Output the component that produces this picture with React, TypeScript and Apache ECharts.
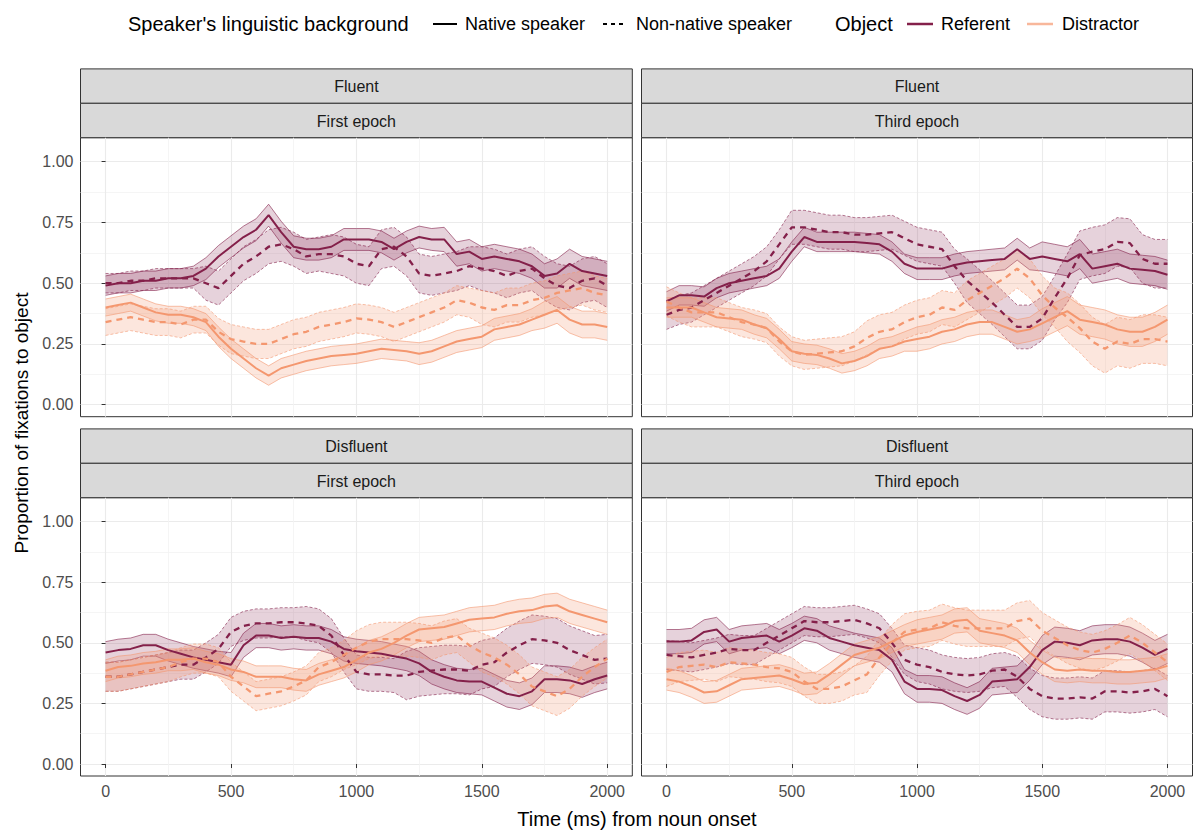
import React, { useEffect, useRef } from "react";
import * as echarts from "echarts";

// ---------- data ----------
const TIME = [0, 50, 100, 150, 200, 250, 300, 350, 400, 450, 500, 550, 600, 650, 700, 750, 800, 850, 900, 950, 1000, 1050, 1100, 1150, 1200, 1250, 1300, 1350, 1400, 1450, 1500, 1550, 1600, 1650, 1700, 1750, 1800, 1850, 1900, 1950, 2000];
const X_TICKS = [0, 500, 1000, 1500, 2000];
const X_MINOR = [250, 750, 1250, 1750];
const Y_TICKS = [0, 0.25, 0.5, 0.75, 1];
const Y_MINOR = [0.125, 0.375, 0.625, 0.875];
const FLUENCY = ["Fluent", "Fluent", "Disfluent", "Disfluent"];
const EPOCH = ["First epoch", "Third epoch", "First epoch", "Third epoch"];
const OBJECTS = ["Referent", "Distractor"];
const BACKGROUNDS = ["Native speaker", "Non-native speaker"];

// Fluent / First epoch
const FF_NAT_REF = [0.49,0.50,0.50,0.51,0.51,0.52,0.52,0.53,0.56,0.61,0.65,0.69,0.72,0.78,0.71,0.65,0.64,0.64,0.65,0.68,0.68,0.68,0.67,0.64,0.67,0.69,0.68,0.68,0.62,0.63,0.60,0.61,0.60,0.59,0.57,0.53,0.54,0.58,0.55,0.54,0.53];
const FF_NAT_REF_SE = [0.04,0.04,0.04,0.04,0.04,0.04,0.04,0.04,0.045,0.045,0.045,0.045,0.045,0.045,0.045,0.045,0.045,0.045,0.045,0.045,0.045,0.045,0.045,0.045,0.045,0.045,0.045,0.05,0.05,0.05,0.05,0.05,0.05,0.05,0.05,0.05,0.06,0.06,0.06,0.06,0.06];
const FF_NON_REF = [0.50,0.50,0.51,0.51,0.52,0.52,0.52,0.52,0.50,0.48,0.53,0.58,0.61,0.65,0.66,0.64,0.61,0.62,0.62,0.61,0.58,0.57,0.64,0.65,0.61,0.54,0.53,0.54,0.55,0.57,0.56,0.55,0.53,0.55,0.56,0.52,0.49,0.48,0.51,0.52,0.49];
const FF_NON_REF_SE = [0.04,0.04,0.04,0.04,0.04,0.04,0.04,0.04,0.07,0.07,0.07,0.07,0.07,0.07,0.07,0.07,0.07,0.07,0.08,0.08,0.08,0.08,0.08,0.08,0.08,0.08,0.08,0.08,0.08,0.08,0.09,0.09,0.09,0.09,0.09,0.09,0.09,0.09,0.09,0.09,0.09];
const FF_NAT_DIS = [0.40,0.41,0.42,0.40,0.38,0.37,0.37,0.36,0.34,0.28,0.23,0.19,0.15,0.12,0.15,0.165,0.18,0.19,0.20,0.205,0.21,0.22,0.23,0.225,0.22,0.21,0.22,0.24,0.26,0.27,0.28,0.31,0.32,0.33,0.35,0.37,0.39,0.35,0.33,0.33,0.32];
const FF_NAT_DIS_SE = [0.035,0.035,0.035,0.035,0.035,0.035,0.035,0.035,0.035,0.04,0.04,0.04,0.04,0.04,0.04,0.04,0.04,0.04,0.04,0.04,0.04,0.04,0.04,0.04,0.04,0.045,0.045,0.045,0.045,0.045,0.045,0.045,0.045,0.045,0.045,0.055,0.055,0.055,0.055,0.055,0.055];
const FF_NON_DIS = [0.34,0.35,0.36,0.35,0.34,0.34,0.33,0.35,0.35,0.30,0.27,0.26,0.25,0.25,0.27,0.29,0.30,0.32,0.33,0.34,0.355,0.35,0.34,0.32,0.34,0.36,0.38,0.40,0.43,0.42,0.40,0.39,0.41,0.41,0.43,0.44,0.46,0.47,0.48,0.46,0.45];
const FF_NON_DIS_SE = [0.055,0.055,0.055,0.055,0.055,0.055,0.055,0.055,0.055,0.055,0.06,0.06,0.06,0.06,0.06,0.06,0.06,0.06,0.06,0.06,0.06,0.06,0.06,0.06,0.06,0.06,0.06,0.06,0.06,0.06,0.07,0.07,0.07,0.07,0.07,0.07,0.07,0.07,0.07,0.07,0.07];

// Fluent / Third epoch
const FT_NAT_REF = [0.425,0.45,0.45,0.445,0.48,0.50,0.51,0.52,0.53,0.56,0.63,0.69,0.67,0.67,0.67,0.67,0.665,0.66,0.63,0.58,0.56,0.56,0.56,0.575,0.585,0.59,0.595,0.60,0.64,0.60,0.61,0.60,0.59,0.62,0.56,0.57,0.58,0.56,0.555,0.55,0.535];
const FT_NAT_REF_SE = [0.04,0.04,0.04,0.04,0.04,0.04,0.04,0.04,0.04,0.04,0.04,0.04,0.04,0.04,0.04,0.04,0.04,0.04,0.04,0.04,0.045,0.045,0.045,0.045,0.045,0.045,0.045,0.045,0.045,0.045,0.06,0.06,0.06,0.06,0.06,0.06,0.06,0.06,0.06,0.06,0.06];
const FT_NON_REF = [0.37,0.39,0.40,0.43,0.46,0.49,0.52,0.55,0.59,0.66,0.73,0.73,0.72,0.71,0.71,0.70,0.70,0.705,0.71,0.685,0.66,0.65,0.64,0.57,0.51,0.465,0.42,0.37,0.32,0.32,0.355,0.44,0.52,0.615,0.63,0.64,0.67,0.665,0.60,0.58,0.58];
const FT_NON_REF_SE = [0.06,0.06,0.06,0.06,0.06,0.06,0.06,0.06,0.06,0.06,0.07,0.07,0.07,0.07,0.07,0.07,0.07,0.07,0.07,0.07,0.07,0.07,0.07,0.07,0.09,0.09,0.09,0.09,0.09,0.09,0.09,0.09,0.1,0.1,0.1,0.1,0.1,0.1,0.1,0.1,0.1];
const FT_NAT_DIS = [0.40,0.40,0.40,0.38,0.36,0.355,0.35,0.33,0.315,0.27,0.22,0.21,0.205,0.19,0.17,0.18,0.20,0.23,0.24,0.26,0.27,0.28,0.30,0.31,0.33,0.34,0.34,0.32,0.30,0.31,0.335,0.36,0.385,0.35,0.34,0.33,0.31,0.30,0.30,0.32,0.35];
const FT_NAT_DIS_SE = [0.04,0.04,0.04,0.04,0.04,0.04,0.04,0.04,0.04,0.04,0.04,0.04,0.04,0.04,0.04,0.04,0.04,0.04,0.04,0.04,0.05,0.05,0.05,0.05,0.05,0.05,0.05,0.05,0.05,0.05,0.06,0.06,0.06,0.06,0.06,0.06,0.06,0.06,0.06,0.06,0.06];
const FT_NON_DIS = [0.425,0.40,0.38,0.38,0.38,0.36,0.34,0.33,0.315,0.26,0.22,0.205,0.21,0.215,0.22,0.24,0.275,0.30,0.31,0.34,0.36,0.37,0.40,0.39,0.43,0.46,0.49,0.52,0.56,0.52,0.45,0.40,0.36,0.315,0.26,0.23,0.26,0.25,0.27,0.27,0.26];
const FT_NON_DIS_SE = [0.06,0.06,0.06,0.06,0.06,0.06,0.06,0.06,0.06,0.06,0.06,0.06,0.06,0.06,0.06,0.06,0.07,0.07,0.07,0.07,0.07,0.07,0.07,0.07,0.08,0.08,0.08,0.08,0.08,0.08,0.08,0.08,0.1,0.1,0.1,0.1,0.1,0.1,0.1,0.1,0.1];

// Disfluent / First epoch
const DF_NAT_REF = [0.46,0.47,0.475,0.49,0.49,0.47,0.455,0.44,0.43,0.42,0.41,0.49,0.53,0.53,0.52,0.525,0.52,0.52,0.505,0.475,0.465,0.46,0.455,0.445,0.435,0.415,0.38,0.36,0.345,0.34,0.34,0.315,0.29,0.28,0.30,0.35,0.35,0.345,0.33,0.35,0.365];
const DF_NAT_REF_SE = [0.045,0.045,0.045,0.045,0.045,0.045,0.045,0.045,0.045,0.045,0.05,0.05,0.05,0.05,0.05,0.05,0.05,0.05,0.05,0.05,0.05,0.05,0.05,0.05,0.05,0.05,0.05,0.05,0.05,0.05,0.055,0.055,0.055,0.055,0.055,0.055,0.055,0.055,0.055,0.055,0.055];
const DF_NON_REF = [0.36,0.36,0.37,0.38,0.39,0.40,0.41,0.41,0.44,0.475,0.545,0.57,0.58,0.58,0.585,0.585,0.58,0.57,0.53,0.45,0.38,0.37,0.37,0.365,0.365,0.38,0.385,0.39,0.39,0.385,0.41,0.42,0.46,0.49,0.515,0.51,0.50,0.47,0.45,0.43,0.435];
const DF_NON_REF_SE = [0.06,0.06,0.06,0.06,0.06,0.06,0.06,0.06,0.06,0.06,0.06,0.06,0.06,0.06,0.06,0.06,0.07,0.07,0.07,0.07,0.07,0.07,0.07,0.07,0.1,0.1,0.1,0.1,0.1,0.1,0.1,0.1,0.1,0.1,0.1,0.1,0.1,0.1,0.1,0.1,0.1];
const DF_NAT_DIS = [0.385,0.40,0.405,0.415,0.42,0.43,0.43,0.435,0.42,0.41,0.39,0.38,0.36,0.36,0.36,0.35,0.345,0.37,0.385,0.40,0.43,0.46,0.475,0.50,0.53,0.555,0.56,0.565,0.58,0.595,0.60,0.605,0.62,0.63,0.635,0.65,0.655,0.63,0.615,0.60,0.585];
const DF_NAT_DIS_SE = [0.045,0.045,0.045,0.045,0.045,0.045,0.045,0.045,0.045,0.045,0.045,0.045,0.045,0.045,0.045,0.045,0.045,0.045,0.045,0.045,0.05,0.05,0.05,0.05,0.05,0.05,0.05,0.05,0.05,0.05,0.05,0.05,0.05,0.05,0.05,0.05,0.05,0.05,0.05,0.05,0.05];
const DF_NON_DIS = [0.36,0.36,0.37,0.38,0.39,0.40,0.42,0.435,0.435,0.42,0.36,0.32,0.28,0.29,0.30,0.32,0.345,0.40,0.42,0.45,0.48,0.505,0.515,0.515,0.515,0.51,0.50,0.52,0.53,0.49,0.46,0.44,0.41,0.37,0.32,0.30,0.28,0.31,0.36,0.40,0.435];
const DF_NON_DIS_SE = [0.06,0.06,0.06,0.06,0.06,0.06,0.06,0.06,0.06,0.06,0.06,0.06,0.06,0.06,0.06,0.06,0.06,0.06,0.06,0.06,0.07,0.07,0.07,0.07,0.07,0.07,0.07,0.07,0.07,0.07,0.08,0.08,0.08,0.08,0.08,0.08,0.08,0.08,0.08,0.08,0.08];

// Disfluent / Third epoch
const DT_NAT_REF = [0.505,0.505,0.51,0.545,0.555,0.505,0.52,0.525,0.53,0.505,0.53,0.56,0.55,0.52,0.505,0.49,0.48,0.47,0.43,0.34,0.31,0.31,0.305,0.28,0.26,0.285,0.34,0.345,0.35,0.40,0.47,0.505,0.50,0.49,0.51,0.515,0.515,0.505,0.48,0.45,0.475];
const DT_NAT_REF_SE = [0.05,0.05,0.05,0.05,0.05,0.05,0.05,0.05,0.05,0.05,0.05,0.05,0.05,0.05,0.05,0.05,0.05,0.05,0.05,0.05,0.055,0.055,0.055,0.055,0.055,0.055,0.055,0.055,0.055,0.055,0.06,0.06,0.06,0.06,0.06,0.06,0.06,0.06,0.06,0.06,0.06];
const DT_NON_REF = [0.45,0.445,0.44,0.45,0.46,0.475,0.47,0.47,0.50,0.53,0.56,0.59,0.585,0.585,0.59,0.595,0.58,0.56,0.50,0.43,0.41,0.40,0.38,0.37,0.365,0.37,0.385,0.39,0.36,0.31,0.28,0.27,0.27,0.275,0.27,0.30,0.30,0.295,0.30,0.31,0.28];
const DT_NON_REF_SE = [0.06,0.06,0.06,0.06,0.06,0.06,0.06,0.06,0.06,0.06,0.06,0.06,0.06,0.06,0.06,0.06,0.06,0.06,0.06,0.06,0.07,0.07,0.07,0.07,0.07,0.07,0.07,0.07,0.085,0.085,0.085,0.085,0.085,0.085,0.085,0.085,0.085,0.085,0.085,0.085,0.085];
const DT_NAT_DIS = [0.35,0.34,0.32,0.295,0.30,0.325,0.35,0.355,0.36,0.365,0.35,0.33,0.335,0.37,0.41,0.45,0.465,0.48,0.505,0.53,0.545,0.555,0.565,0.59,0.595,0.55,0.54,0.53,0.51,0.46,0.42,0.39,0.385,0.39,0.385,0.385,0.38,0.38,0.385,0.39,0.405];
const DT_NAT_DIS_SE = [0.045,0.045,0.045,0.045,0.045,0.045,0.045,0.045,0.045,0.045,0.045,0.045,0.045,0.045,0.045,0.045,0.045,0.045,0.045,0.045,0.05,0.05,0.05,0.05,0.05,0.05,0.05,0.05,0.05,0.05,0.05,0.05,0.05,0.05,0.05,0.05,0.05,0.05,0.05,0.05,0.05];
const DT_NON_DIS = [0.38,0.40,0.405,0.41,0.40,0.42,0.415,0.41,0.40,0.395,0.38,0.34,0.31,0.31,0.32,0.345,0.37,0.44,0.50,0.545,0.555,0.56,0.585,0.57,0.56,0.56,0.56,0.56,0.59,0.60,0.55,0.52,0.49,0.47,0.46,0.475,0.50,0.53,0.50,0.46,0.42];
const DT_NON_DIS_SE = [0.06,0.06,0.06,0.06,0.06,0.06,0.06,0.06,0.06,0.06,0.06,0.06,0.06,0.06,0.06,0.06,0.075,0.075,0.075,0.075,0.075,0.075,0.075,0.075,0.075,0.075,0.075,0.075,0.075,0.075,0.075,0.075,0.075,0.075,0.075,0.075,0.075,0.075,0.075,0.075,0.075];

// ---------- styling / layout ----------
const REF_COLOR = "#84204A";
const DIS_COLOR = "#F4976F";
const FONT = "'Liberation Sans', Arial, Helvetica, sans-serif";

const PANEL_LEFT = [80.5, 641.5, 80.5, 641.5];
const PANEL_WIDTH = [551.8, 551, 551.8, 551];
const PANEL_TOP = [137.7, 137.7, 497.7, 497.7];
const PANEL_HEIGHT = [279, 279, 278.3, 278.3];
const STRIP_H = 34.4;
const X_MIN = -100, X_MAX = 2100;
const Y_MIN = -0.0494, Y_MAX = 1.0988;

const PANELS = [
  [[FF_NAT_REF, FF_NAT_REF_SE], [FF_NON_REF, FF_NON_REF_SE], [FF_NAT_DIS, FF_NAT_DIS_SE], [FF_NON_DIS, FF_NON_DIS_SE]],
  [[FT_NAT_REF, FT_NAT_REF_SE], [FT_NON_REF, FT_NON_REF_SE], [FT_NAT_DIS, FT_NAT_DIS_SE], [FT_NON_DIS, FT_NON_DIS_SE]],
  [[DF_NAT_REF, DF_NAT_REF_SE], [DF_NON_REF, DF_NON_REF_SE], [DF_NAT_DIS, DF_NAT_DIS_SE], [DF_NON_DIS, DF_NON_DIS_SE]],
  [[DT_NAT_REF, DT_NAT_REF_SE], [DT_NON_REF, DT_NON_REF_SE], [DT_NAT_DIS, DT_NAT_DIS_SE], [DT_NON_DIS, DT_NON_DIS_SE]],
];

function ribbonSeries(p: number, mean: number[], se: number[], color: string, native: boolean, isRef: boolean) {
  const data = TIME.map((t, j) => [t, mean[j] - se[j], mean[j] + se[j]]);
  return {
    type: "custom",
    xAxisIndex: p,
    yAxisIndex: p,
    silent: true,
    clip: true,
    z: 2,
    data,
    encode: { x: 0, y: [1, 2] },
    renderItem: (params: any, api: any) => {
      if (params.dataIndex !== 0) return null;
      const lower: number[][] = [];
      const upper: number[][] = [];
      for (let j = 0; j < data.length; j++) {
        lower.push(api.coord([data[j][0], data[j][1]]));
        upper.push(api.coord([data[j][0], data[j][2]]));
      }
      const poly = lower.concat(upper.slice().reverse());
      const dash = native ? null : [3, 2];
      return {
        type: "group",
        children: [
          {
            type: "polygon",
            shape: { points: poly },
            style: { fill: color, opacity: isRef ? 0.2 : 0.24, stroke: null },
          },
          {
            type: "polyline",
            shape: { points: lower },
            style: { fill: null, stroke: color, lineWidth: 0.7, lineDash: dash, opacity: 0.85 },
          },
          {
            type: "polyline",
            shape: { points: upper },
            style: { fill: null, stroke: color, lineWidth: 0.7, lineDash: dash, opacity: 0.85 },
          },
        ],
      };
    },
  };
}

function buildOption() {
  const grid: any[] = [];
  const xAxis: any[] = [];
  const yAxis: any[] = [];
  const ribbons: any[] = [];
  const lines: any[] = [];
  const graphic: any[] = [];

  for (let p = 0; p < 4; p++) {
    grid.push({
      left: PANEL_LEFT[p], top: PANEL_TOP[p], width: PANEL_WIDTH[p], height: PANEL_HEIGHT[p],
      show: true, backgroundColor: "#ffffff", borderColor: "#333333", borderWidth: 1,
      containLabel: false,
    });
  }
  for (let p = 0; p < 4; p++) {
    const isBottom = p >= 2;
    const isLeft = p % 2 === 0;
    xAxis.push({
      type: "value", gridIndex: p, min: X_MIN, max: X_MAX,
      axisLine: { show: false },
      axisTick: { show: isBottom, customValues: X_TICKS, length: 4, lineStyle: { color: "#333333", width: 1 } },
      axisLabel: { show: isBottom, customValues: X_TICKS, color: "#4d4d4d", fontSize: 16, margin: 7, fontFamily: FONT, formatter: (v: number) => String(v) },
      splitLine: { show: true, lineStyle: { color: "#ebebeb", width: 1.1 } },
    });
    yAxis.push({
      type: "value", gridIndex: p, min: Y_MIN, max: Y_MAX,
      axisLine: { show: false },
      axisTick: { show: isLeft, customValues: Y_TICKS, length: 4, lineStyle: { color: "#333333", width: 1 } },
      axisLabel: { show: isLeft, customValues: Y_TICKS, color: "#4d4d4d", fontSize: 16, margin: 7, fontFamily: FONT, formatter: (v: number) => v.toFixed(2) },
      splitLine: { show: true, lineStyle: { color: "#ebebeb", width: 1.1 } },
    });
  }
  for (let p = 0; p < 4; p++) {
    xAxis.push({
      type: "value", gridIndex: p, min: X_MIN, max: X_MAX,
      axisLine: { show: false },
      axisTick: { show: false, customValues: X_MINOR },
      axisLabel: { show: false, customValues: X_MINOR },
      splitLine: { show: true, lineStyle: { color: "#f3f3f3", width: 0.8 } },
    });
    yAxis.push({
      type: "value", gridIndex: p, min: Y_MIN, max: Y_MAX,
      axisLine: { show: false },
      axisTick: { show: false, customValues: Y_MINOR },
      axisLabel: { show: false, customValues: Y_MINOR },
      splitLine: { show: true, lineStyle: { color: "#f3f3f3", width: 0.8 } },
    });
  }

  for (let p = 0; p < 4; p++) {
    for (let k = 0; k < 4; k++) {
      const [mean, se] = PANELS[p][k];
      const isRef = k < 2;
      const native = k % 2 === 0;
      const color = isRef ? REF_COLOR : DIS_COLOR;
      ribbons.push(ribbonSeries(p, mean, se, color, native, isRef));
      lines.push({
        type: "line", xAxisIndex: p, yAxisIndex: p, silent: true, symbol: "none",
        name: `${OBJECTS[isRef ? 0 : 1]} - ${BACKGROUNDS[native ? 0 : 1]}`,
        data: TIME.map((t, j) => [t, mean[j]]),
        lineStyle: { color, width: native ? 2 : 2.3, type: native ? "solid" : [6, 5] },
        z: 3,
      });
    }
  }

  // strips
  for (let p = 0; p < 4; p++) {
    const x = PANEL_LEFT[p];
    const w = PANEL_WIDTH[p];
    const top = PANEL_TOP[p] - 2 * STRIP_H;
    [FLUENCY[p], EPOCH[p]].forEach((label, r) => {
      const y = top + r * STRIP_H;
      graphic.push({
        type: "rect", shape: { x, y, width: w, height: STRIP_H },
        style: { fill: "#d9d9d9", stroke: "#333333", lineWidth: 1 }, silent: true,
      });
      graphic.push({
        type: "text", x: x + w / 2, y: y + STRIP_H / 2 + 0.5, silent: true,
        style: { text: label, fill: "#1a1a1a", fontSize: 16, fontFamily: FONT, align: "center", verticalAlign: "middle" },
      });
    });
  }

  // axis titles
  graphic.push({
    type: "text", x: 637, y: 819, silent: true,
    style: { text: "Time (ms) from noun onset", fill: "#000", fontSize: 20, fontFamily: FONT, align: "center", verticalAlign: "middle" },
  });
  graphic.push({
    type: "text", x: 21, y: 423, rotation: Math.PI / 2, silent: true,
    style: { text: "Proportion of fixations to object", fill: "#000", fontSize: 19, fontFamily: FONT, align: "center", verticalAlign: "middle" },
  });

  // legend
  const LY = 24;
  const legendText = (text: string, x: number, size: number) => ({
    type: "text", x, y: LY, silent: true,
    style: { text, fill: "#000", fontSize: size, fontFamily: FONT, align: "left", verticalAlign: "middle" },
  });
  const legendLine = (x1: number, x2: number, color: string, dash: any, w: number) => ({
    type: "line", silent: true, shape: { x1, y1: LY, x2, y2: LY },
    style: { stroke: color, lineWidth: w, lineDash: dash },
  });
  graphic.push(legendText("Speaker's linguistic background", 128, 20));
  graphic.push(legendLine(433, 457, "#000", null, 2));
  graphic.push(legendText(BACKGROUNDS[0], 465, 18));
  graphic.push(legendLine(603, 627, "#000", [4, 4], 2));
  graphic.push(legendText(BACKGROUNDS[1], 636, 18));
  graphic.push(legendText("Object", 835, 20));
  graphic.push(legendLine(907, 933, REF_COLOR, null, 2.5));
  graphic.push(legendText(OBJECTS[0], 941, 18));
  graphic.push(legendLine(1027, 1053, "#F8B79B", null, 2.5));
  graphic.push(legendText(OBJECTS[1], 1062, 18));

  return {
    animation: false,
    backgroundColor: "#ffffff",
    textStyle: { fontFamily: FONT },
    grid, xAxis, yAxis,
    series: [...ribbons, ...lines],
    graphic,
  };
}

export default function App() {
  const ref = useRef<HTMLDivElement>(null);
  useEffect(() => {
    document.body.style.margin = "0";
    if (!ref.current) return;
    const chart = echarts.init(ref.current, null, { renderer: "svg" });
    chart.setOption(buildOption() as any);
    return () => chart.dispose();
  }, []);
  return <div ref={ref} style={{ width: 1193, height: 831 }} />;
}
